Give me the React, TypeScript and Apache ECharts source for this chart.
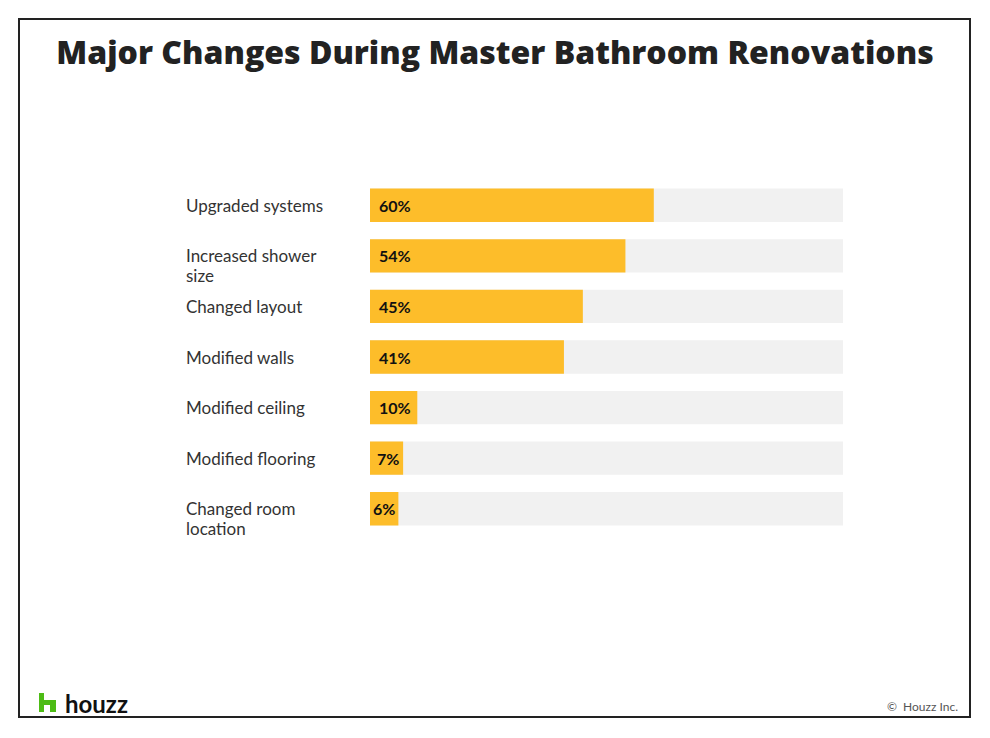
import React, { useEffect, useRef } from "react";
import * as echarts from "echarts";

const categories = [
  "Upgraded systems",
  "Increased shower size",
  "Changed layout",
  "Modified walls",
  "Modified ceiling",
  "Modified flooring",
  "Changed room location",
];
const values = [60, 54, 45, 41, 10, 7, 6];
const titleText = "Major Changes During Master Bathroom Renovations";
const brandText = "houzz";
const copyrightText = "©  Houzz Inc.";

const wrapMap: Record<string, string> = {
  "Increased shower size": "Increased shower\nsize",
  "Changed room location": "Changed room\nlocation",
};

echarts.graphic.registerShape(
  "houzzLogo",
  echarts.graphic.extendPath(
    "M0 0 L5 0 L5 7 L17 7 L17 19 L11 19 L11 12 L5 12 L5 19 L0 19 Z",
    {}
  )
);

export default function App() {
  const ref = useRef<HTMLDivElement>(null);
  useEffect(() => {
    if (!ref.current) return;
    const chart = echarts.init(ref.current, null, { renderer: "svg" });
    const font = "Lato, 'Open Sans', sans-serif";
    chart.setOption({
      animation: false,
      backgroundColor: "#ffffff",
      title: {
        text: titleText,
        left: "center",
        top: 30,
        textStyle: {
          fontFamily: "'Open Sans', sans-serif",
          fontWeight: 800,
          fontSize: 32,
          color: "#222222",
        },
      },
      grid: { left: 370, right: 147, top: 180, bottom: 204 },
      xAxis: {
        type: "value",
        min: 0,
        max: 100,
        show: false,
      },
      yAxis: {
        type: "category",
        data: categories,
        inverse: true,
        axisLine: { show: false },
        axisTick: { show: false },
        splitLine: { show: false },
        axisLabel: {
          align: "left",
          margin: 184,
          fontFamily: font,
          fontSize: 17,
          lineHeight: 20,
          color: "#333333",
          formatter: (v: string) => (wrapMap[v] ? " \n" + wrapMap[v] : v),
        },
      },
      series: [
        {
          type: "bar",
          barCategoryGap: "34%",
          showBackground: true,
          backgroundStyle: { color: "#f1f1f1" },
          itemStyle: { color: "#fdbd2a" },
          data: values.map((v) => ({
            value: v,
            label: { distance: v < 8 ? (v < 7 ? 3 : 7) : 9 },
          })),
          label: {
            show: true,
            position: "insideLeft",
            formatter: "{c}%",
            fontFamily: font,
            fontWeight: "bold",
            fontSize: 16,
            color: "#111111",
          },
        },
      ],
      graphic: [
        {
          type: "rect",
          shape: { x: 19, y: 19, width: 951, height: 698 },
          style: { fill: "none", stroke: "#222222", lineWidth: 2 },
          silent: true,
        },
        {
          type: "houzzLogo",
          x: 39,
          y: 693,
          scaleX: 1,
          scaleY: 1,
          style: { fill: "#4dbc15" },
        },
        {
          type: "text",
          x: 65,
          y: 703,
          style: {
            text: brandText,
            fontFamily: font,
            fontWeight: "bold",
            fontSize: 24,
            fill: "#111111",
            verticalAlign: "middle",
          },
        },
        {
          type: "text",
          x: 958,
          y: 706,
          style: {
            text: copyrightText,
            fontFamily: font,
            fontSize: 12,
            fill: "#555555",
            align: "right",
            verticalAlign: "middle",
          },
        },
      ],
    });
    return () => chart.dispose();
  }, []);
  return (
    <div
      ref={ref}
      style={{ position: "fixed", left: 0, top: 0, width: 990, height: 738 }}
    />
  );
}
